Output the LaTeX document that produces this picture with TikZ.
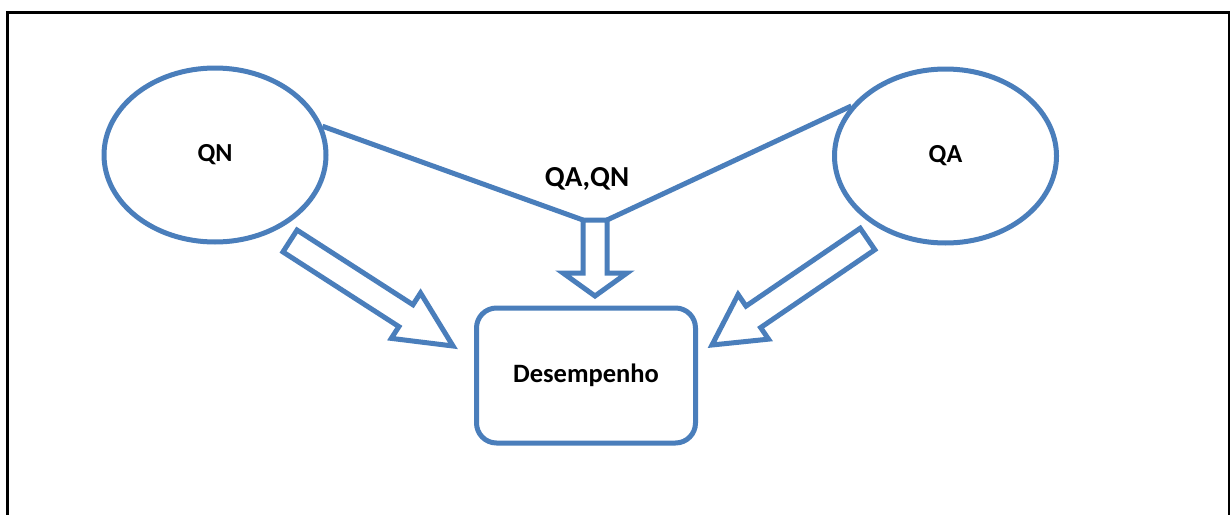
\documentclass[tikz,border=0pt]{standalone}
\usepackage{fontspec}
\setmainfont{Carlito}
\usetikzlibrary{calc,shapes.geometric}
\definecolor{stroke}{HTML}{4A7EBB}
\tikzset{
  bubble/.style={draw=stroke, line width=5pt, ellipse, minimum width=222pt, minimum height=174pt, inner sep=0pt, font=\fontsize{26}{30}\selectfont\bfseries},
  roundbox/.style={draw=stroke, line width=5pt, rounded corners=20pt, minimum width=219pt, minimum height=135pt, inner sep=0pt, font=\fontsize{26.5}{30}\selectfont\bfseries},
  label/.style={inner sep=0pt, font=\fontsize{29}{32}\selectfont\bfseries},
  link/.style={draw=stroke, line width=5pt},
  hollow/.style={draw=stroke, line width=5pt, fill=white, line join=miter},
  frame/.style={draw=black, line width=3pt}
}
% hollow block arrow: tail, tip, shaft half width, head half width, head length
\newcommand\blockarrow[5]{%
  \coordinate (ba-base) at ($(#2)!#5!(#1)$);
  \draw[hollow] ($(#1)!#3!90:(#2)$) -- ($(ba-base)!#3!90:(#2)$) -- ($(ba-base)!#4!90:(#2)$)
    -- (#2) -- ($(ba-base)!#4!-90:(#2)$) -- ($(ba-base)!#3!-90:(#2)$) -- ($(#1)!#3!-90:(#2)$) -- cycle;
}
\begin{document}
\begin{tikzpicture}[x=1pt, y=-1pt]
\useasboundingbox (0,0) rectangle (1230,514);
\fill[white] (0,0) rectangle (1230,514);
% outer frame
\draw[frame] (7,520) -- (7,12) -- (1229,12) -- (1229,520);

\node[bubble] (qn) at (215,155) {QN};
\node[bubble] (qa) at (945.5,156) {QA};
\node[roundbox] (des) at (586,375.5) {Desempenho};
\node[label] (both) at (587,179) {QA,QN};

% junction of the two links above the small arrow
\coordinate (jl) at (583,220);
\coordinate (jr) at (607,220);
\draw[link] (qn.15) -- (jl);
\draw[link] (qa.152) -- (jr);

% block arrows
\coordinate (dtail) at (595,220);
\coordinate (dtip) at (595,296);
\blockarrow{dtail}{dtip}{12pt}{32pt}{23pt}

\coordinate (ltail) at (290,241);
\coordinate (ltip) at (453,346);
\blockarrow{ltail}{ltip}{13pt}{27pt}{56pt}

\coordinate (rtail) at (867.5,239);
\coordinate (rtip) at (712,345);
\blockarrow{rtail}{rtip}{13pt}{27pt}{50pt}
\end{tikzpicture}
\end{document}
